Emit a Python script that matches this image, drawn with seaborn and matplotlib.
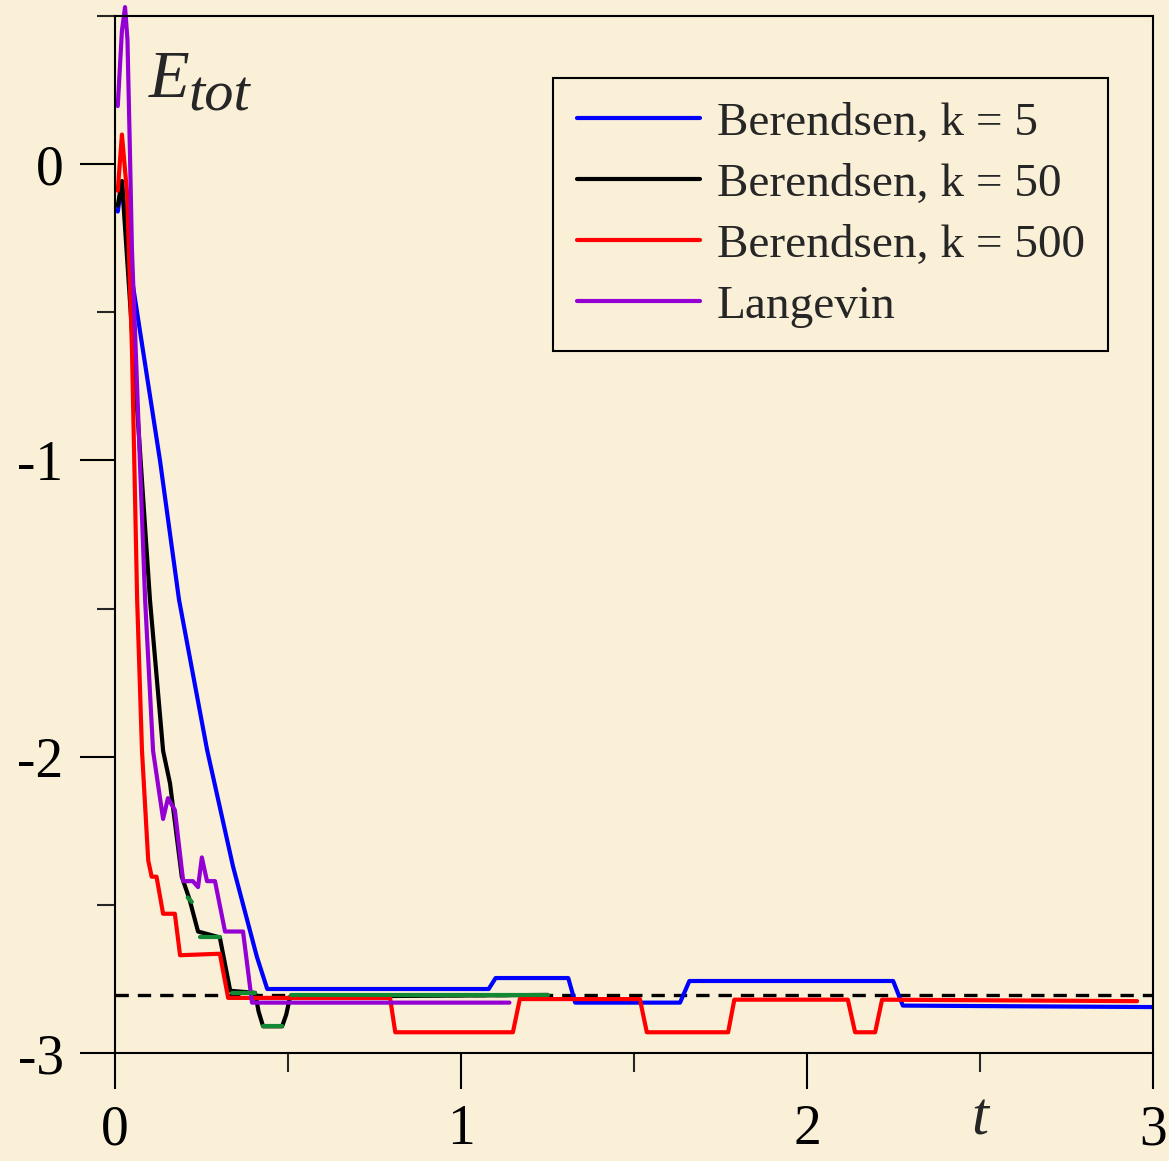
import numpy as np
import pandas as pd
import matplotlib
matplotlib.use("Agg")
import matplotlib.pyplot as plt
import matplotlib.transforms as mtransforms
import seaborn as sns

# --- Total energy vs time for different thermostats ---
t_k5 = [0.008, 0.02, 0.04, 0.13, 0.185, 0.266, 0.341, 0.41, 0.44, 1.08, 1.10, 1.31, 1.33,
        1.633, 1.66, 2.249, 2.277, 3.0]
e_k5 = [-0.16, -0.06, -0.32, -1.0, -1.47, -1.976, -2.37, -2.675, -2.784, -2.784, -2.747,
        -2.747, -2.83, -2.83, -2.757, -2.757, -2.84, -2.845]

t_k50 = [0.008, 0.02, 0.101, 0.139, 0.159, 0.193, 0.215, 0.24, 0.303, 0.333, 0.405, 0.415,
         0.428, 0.483, 0.495, 0.506, 1.25]
e_k50 = [-0.14, -0.057, -1.47, -1.98, -2.09, -2.405, -2.48, -2.59, -2.61, -2.79, -2.797,
         -2.86, -2.91, -2.91, -2.87, -2.81, -2.804]

t_k500 = [0.008, 0.02, 0.035, 0.049, 0.064, 0.078, 0.096, 0.106, 0.12, 0.139, 0.173, 0.188,
          0.303, 0.327, 0.795, 0.81, 1.15, 1.17, 1.517, 1.537, 1.772, 1.79, 2.118, 2.139,
          2.197, 2.217, 2.954]
e_k500 = [-0.09, 0.10, -0.10, -0.625, -1.47, -1.98, -2.35, -2.405, -2.405, -2.53, -2.53,
          -2.67, -2.665, -2.814, -2.814, -2.93, -2.93, -2.818, -2.818, -2.93, -2.93, -2.82,
          -2.82, -2.93, -2.93, -2.82, -2.825]

t_lang = [0.008, 0.02, 0.029, 0.036, 0.043, 0.049, 0.087, 0.11, 0.139, 0.153, 0.173, 0.197,
          0.225, 0.24, 0.251, 0.266, 0.289, 0.318, 0.37, 0.396, 1.14]
e_lang = [0.196, 0.45, 0.53, 0.42, 0.05, -0.29, -1.47, -1.98, -2.21, -2.14, -2.18, -2.42,
          -2.42, -2.44, -2.34, -2.42, -2.42, -2.59, -2.59, -2.83, -2.83]

# plateau segments of the k = 50 run
seg_id = [1, 1, 2, 2, 3, 3, 4, 4, 5, 5]
t_plateau = [0.21, 0.222, 0.245, 0.303, 0.338, 0.405, 0.428, 0.483, 0.51, 1.25]
e_plateau = [-2.475, -2.49, -2.61, -2.61, -2.797, -2.797, -2.91, -2.91, -2.804, -2.804]

e_ref = -2.804

series_labels = ["Berendsen, k = 5", "Berendsen, k = 50", "Berendsen, k = 500", "Langevin"]
series_colors = ["#0000FF", "#000000", "#FF0000", "#9400D3"]
plateau_color = "#128A33"

x_ticks = [0, 1, 2, 3]
x_ticklabels = ["0", "1", "2", "3"]
y_ticks = [0, -1, -2, -3]
y_ticklabels = ["0", "-1", "-2", "-3"]

bg = "#FAF0D8"

sns.set_style("ticks")
plt.rcParams["font.family"] = ["Liberation Serif", "DejaVu Serif"]
plt.rcParams["axes.unicode_minus"] = False

fig = plt.figure(figsize=(11.69, 11.61), dpi=100, facecolor=bg)
ax = fig.add_axes([115 / 1169, 1 - 1053 / 1161, (1153 - 115) / 1169, (1053 - 16) / 1161])
ax.set_facecolor(bg)

lw = 3.0
ax.axhline(e_ref, xmin=0, xmax=1, color="black", lw=2.4, dashes=(4.0, 2.7), zorder=1)

runs = [(t_k5, e_k5), (t_k50, e_k50), (t_k500, e_k500), (t_lang, e_lang)]
for (tt, ee), lab, col in zip(runs, series_labels, series_colors):
    sns.lineplot(x=tt, y=ee, ax=ax, color=col, linewidth=lw, label=lab, sort=False,
                 estimator=None, zorder=2)
ax.lines[-1].set_clip_on(False)

plateau = pd.DataFrame({"t": t_plateau, "E": e_plateau, "seg": seg_id})
sns.lineplot(data=plateau, x="t", y="E", units="seg", estimator=None, ax=ax,
             color=plateau_color, linewidth=lw, legend=False, zorder=3)

ax.set_xlim(0, 3)
ax.set_ylim(-3, 0.5)
ax.set_xlabel("")
ax.set_ylabel("")

ax.set_xticks(x_ticks, x_ticklabels)
ax.set_yticks(y_ticks, y_ticklabels)
ax.set_xticks([0.5, 1.5, 2.5], minor=True)
ax.set_yticks([0.5, -0.5, -1.5, -2.5], minor=True)

for s in ax.spines.values():
    s.set_visible(True)
    s.set_linewidth(1.5)
    s.set_color("black")

ax.tick_params(axis="x", which="major", direction="out", length=26, width=1.5,
               labelsize=40, pad=11, colors="black")
ax.tick_params(axis="x", which="minor", direction="out", length=14, width=1.5)
ax.tick_params(axis="y", which="major", direction="out", length=25, width=1.5,
               labelsize=40, pad=12, colors="black")
ax.tick_params(axis="y", which="minor", direction="out", length=13, width=1.5)

# axis labels drawn inside the frame
ax.text(0.033, 0.922, "E", transform=ax.transAxes, fontsize=48, style="italic",
        ha="left", va="baseline")
ax.text(0.071, 0.909, "tot", transform=ax.transAxes, fontsize=42, style="italic",
        ha="left", va="baseline")
trans = mtransforms.blended_transform_factory(ax.transData, ax.transAxes)
ax.text(2.5, -0.079, "t", transform=trans, fontsize=44, style="italic",
        ha="center", va="baseline")

leg = ax.legend(loc="upper right", bbox_to_anchor=(0.957, 0.940), borderaxespad=0,
                fontsize=34, frameon=True, fancybox=False, edgecolor="black",
                facecolor=bg, framealpha=1, handlelength=2.6, handletextpad=0.36,
                labelspacing=0.38, borderpad=0.5)
leg.get_frame().set_linewidth(1.5)
for h in leg.get_lines():
    h.set_linewidth(3.0)

fig.savefig("out.png", dpi=100, facecolor=bg)
